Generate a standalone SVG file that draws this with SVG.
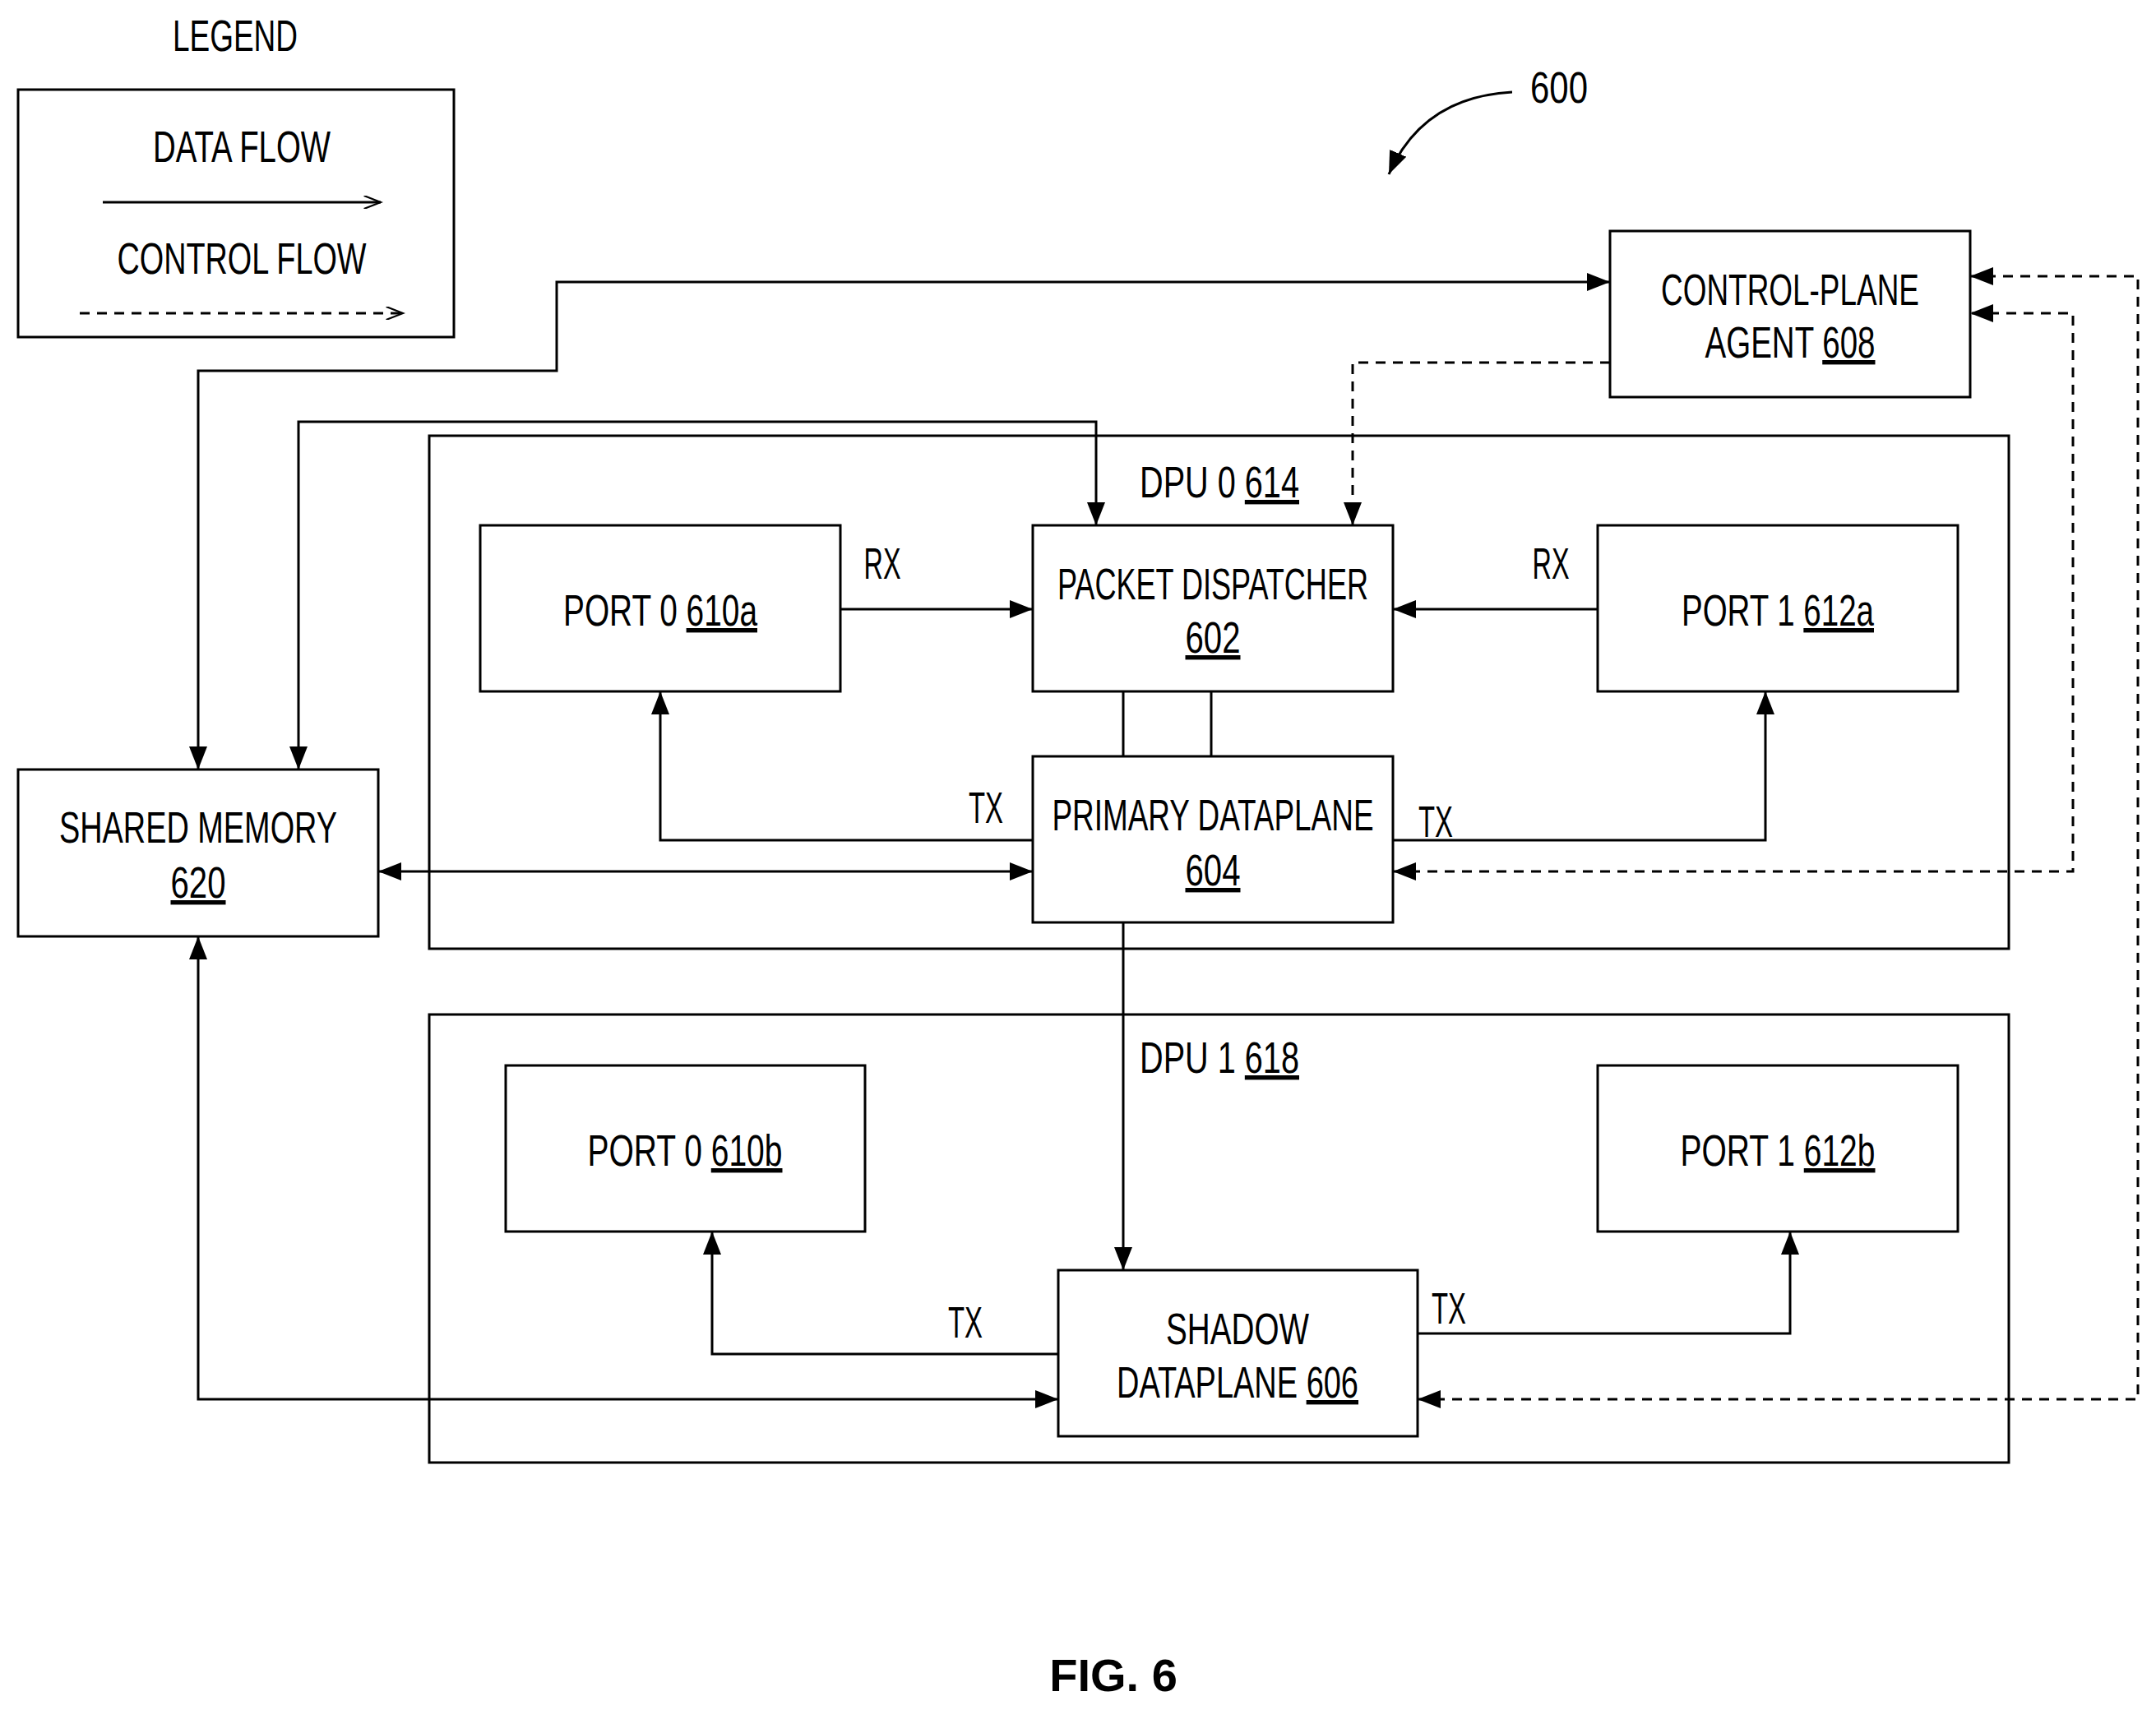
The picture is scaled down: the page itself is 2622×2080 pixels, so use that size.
<svg xmlns="http://www.w3.org/2000/svg" width="2622" height="2080" viewBox="0 0 2622 2080">
<defs>
<marker id="ah" viewBox="0 0 28 22" refX="28" refY="11" markerWidth="28" markerHeight="22" markerUnits="userSpaceOnUse" orient="auto-start-reverse"><path d="M0,0 L28,11 L0,22 Z" fill="#000"/></marker>
<marker id="oa" viewBox="0 0 28 22" refX="28" refY="11" markerWidth="30" markerHeight="16" markerUnits="userSpaceOnUse" orient="auto"><path d="M0,0 L28,11 L0,22" fill="none" stroke="#000" stroke-width="3"/></marker>
</defs>
<style>
.b{fill:#fff;stroke:#000;stroke-width:3}
.c{fill:none;stroke:#000;stroke-width:3}
.d{stroke-dasharray:12 9}
text{font-family:"Liberation Sans",Arial,sans-serif;font-size:54px;fill:#000;text-anchor:middle}
.u{text-decoration:underline}
</style>
<rect width="2622" height="2080" fill="#fff"/>
<g id="legend">
<text x="286" y="62" textLength="152" lengthAdjust="spacingAndGlyphs">LEGEND</text>
<rect class="b" x="22" y="109" width="530" height="301"/>
<text x="294" y="197" textLength="216" lengthAdjust="spacingAndGlyphs">DATA FLOW</text>
<path class="c" d="M125,246 H463" marker-end="url(#oa)"/>
<text x="294" y="333" textLength="303" lengthAdjust="spacingAndGlyphs">CONTROL FLOW</text>
<path class="c d" d="M97,381 H490" marker-end="url(#oa)"/>
</g>
<g id="ref600">
<text x="1896" y="125" textLength="70" lengthAdjust="spacingAndGlyphs">600</text>
<path class="c" d="M1839,112 Q1730,118 1689,212" marker-end="url(#ah)"/>
</g>
<g id="dpu0"><rect class="b" x="522" y="530" width="1921" height="624"/>
<text x="1483" y="605" textLength="194" lengthAdjust="spacingAndGlyphs">DPU 0 <tspan class="u">614</tspan></text></g>
<g id="dpu1"><rect class="b" x="522" y="1234" width="1921" height="545"/>
<text x="1483" y="1305" textLength="194" lengthAdjust="spacingAndGlyphs">DPU 1 <tspan class="u">618</tspan></text></g>
<g id="cpa"><rect class="b" x="1958" y="281" width="438" height="202"/>
<text x="2177" y="371" textLength="314" lengthAdjust="spacingAndGlyphs">CONTROL-PLANE</text>
<text x="2177" y="435" textLength="207" lengthAdjust="spacingAndGlyphs">AGENT <tspan class="u">608</tspan></text></g>
<g id="port0a"><rect class="b" x="584" y="639" width="438" height="202"/>
<text x="803" y="761" textLength="236" lengthAdjust="spacingAndGlyphs">PORT 0 <tspan class="u">610a</tspan></text></g>
<g id="pd"><rect class="b" x="1256" y="639" width="438" height="202"/>
<text x="1475" y="729" textLength="378" lengthAdjust="spacingAndGlyphs">PACKET DISPATCHER</text>
<text x="1475" y="794" textLength="67" lengthAdjust="spacingAndGlyphs" class="u">602</text></g>
<g id="port1a"><rect class="b" x="1943" y="639" width="438" height="202"/>
<text x="2162" y="761" textLength="234" lengthAdjust="spacingAndGlyphs">PORT 1 <tspan class="u">612a</tspan></text></g>
<g id="pdp"><rect class="b" x="1256" y="920" width="438" height="202"/>
<text x="1475" y="1010" textLength="391" lengthAdjust="spacingAndGlyphs">PRIMARY DATAPLANE</text>
<text x="1475" y="1077" textLength="67" lengthAdjust="spacingAndGlyphs" class="u">604</text></g>
<g id="shm"><rect class="b" x="22" y="936" width="438" height="203"/>
<text x="241" y="1025" textLength="338" lengthAdjust="spacingAndGlyphs">SHARED MEMORY</text>
<text x="241" y="1092" textLength="67" lengthAdjust="spacingAndGlyphs" class="u">620</text></g>
<g id="port0b"><rect class="b" x="615" y="1296" width="437" height="202"/>
<text x="833" y="1418" textLength="237" lengthAdjust="spacingAndGlyphs">PORT 0 <tspan class="u">610b</tspan></text></g>
<g id="port1b"><rect class="b" x="1943" y="1296" width="438" height="202"/>
<text x="2162" y="1418" textLength="237" lengthAdjust="spacingAndGlyphs">PORT 1 <tspan class="u">612b</tspan></text></g>
<g id="sdp"><rect class="b" x="1287" y="1545" width="437" height="202"/>
<text x="1505" y="1635" textLength="174" lengthAdjust="spacingAndGlyphs">SHADOW</text>
<text x="1505" y="1700" textLength="294" lengthAdjust="spacingAndGlyphs">DATAPLANE <tspan class="u">606</tspan></text></g>
<g id="connectors">
<path class="c" d="M241,936 V451 H677 V343 H1958" marker-start="url(#ah)" marker-end="url(#ah)"/>
<path class="c" d="M363,936 V513 H1333 V639" marker-start="url(#ah)" marker-end="url(#ah)"/>
<path class="c" d="M1022,741 H1256" marker-end="url(#ah)"/>
<path class="c" d="M1943,741 H1694" marker-end="url(#ah)"/>
<path class="c" d="M1366,841 V920 M1473,841 V920"/>
<path class="c" d="M1256,1022 H803 V841" marker-end="url(#ah)"/>
<path class="c" d="M1694,1022 H2147 V841" marker-end="url(#ah)"/>
<path class="c" d="M460,1060 H1256" marker-start="url(#ah)" marker-end="url(#ah)"/>
<path class="c" d="M1366,1122 V1545" marker-end="url(#ah)"/>
<path class="c" d="M1287,1647 H866 V1498" marker-end="url(#ah)"/>
<path class="c" d="M1724,1622 H2177 V1498" marker-end="url(#ah)"/>
<path class="c" d="M241,1139 V1702 H1287" marker-start="url(#ah)" marker-end="url(#ah)"/>
<path class="c d" d="M1958,441 H1645 V639" marker-end="url(#ah)"/>
<path class="c d" d="M1694,1060 H2521 V381 H2396" marker-start="url(#ah)" marker-end="url(#ah)"/>
<path class="c d" d="M1724,1702 H2600 V336 H2396" marker-start="url(#ah)" marker-end="url(#ah)"/>
<text x="1073" y="704" textLength="45" lengthAdjust="spacingAndGlyphs">RX</text>
<text x="1886" y="704" textLength="45" lengthAdjust="spacingAndGlyphs">RX</text>
<text x="1199" y="1001" textLength="42" lengthAdjust="spacingAndGlyphs">TX</text>
<text x="1746" y="1018" textLength="42" lengthAdjust="spacingAndGlyphs">TX</text>
<text x="1174" y="1627" textLength="42" lengthAdjust="spacingAndGlyphs">TX</text>
<text x="1762" y="1610" textLength="42" lengthAdjust="spacingAndGlyphs">TX</text>
</g>
<text x="1354" y="2057" style="font-weight:bold;font-size:56px">FIG. 6</text>
</svg>
